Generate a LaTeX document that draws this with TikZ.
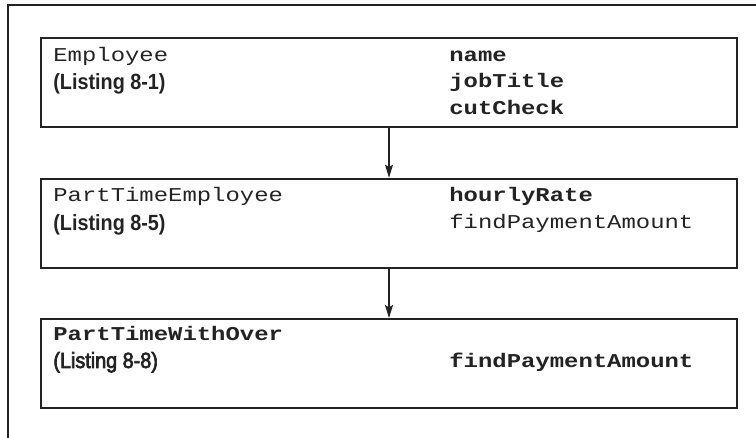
\documentclass[tikz,border=0pt]{standalone}
\usepackage{fontspec}
\setmainfont{Liberation Sans}
\newfontfamily\codefont[FakeStretch=1.22]{Liberation Mono}
\newfontfamily\tagfont[FakeStretch=0.9]{Liberation Sans}
\newfontfamily\tagmedium[FakeStretch=0.9,FakeBold=3]{Liberation Sans}
\usetikzlibrary{arrows.meta,positioning}
\definecolor{ink}{RGB}{35,35,35}
\tikzset{
  >={Stealth[length=6.5pt,width=4pt,inset=1.2pt]},
  frame/.style={draw=ink,line width=1pt},
  classbox/.style={draw=ink,line width=1pt,anchor=north west,inner sep=0pt,
    minimum width=348pt,minimum height=44.5pt},
  inherit/.style={->,draw=ink,line width=0.65pt},
  codetext/.style={font=\codefont\fontsize{9.8}{11}\selectfont,text=ink,
    anchor=base west,inner sep=0pt},
  codebold/.style={codetext,font=\codefont\fontsize{9.8}{11}\selectfont\bfseries},
  listtag/.style={font=\tagfont\fontsize{11}{13}\selectfont\bfseries,text=ink,
    anchor=base west,inner sep=0pt},
}
\begin{document}
\begin{tikzpicture}[x=0.5pt,y=-0.5pt]
  \useasboundingbox (0,0) rectangle (756,438);
  % open frame
  \draw[frame] (756,5) -- (7.5,5) -- (7.5,438);
  % class boxes
  \node[classbox] (emp) at (40,37.5) {};
  \node[classbox] (pte) at (40,177.7) {};
  \node[classbox] (ptwo) at (40,318) {};
  % inheritance arrows
  \draw[inherit] (emp) -- (pte);
  \draw[inherit] (pte) -- (ptwo);
  % Employee
  \node[codetext] (empname) at (53,61.5) {Employee};
  \node[listtag] (emptag) at (53,90) {(Listing 8-1)};
  \foreach \f/\y [count=\i] in {name/61.5,jobTitle/88,cutCheck/114.5}
    \node[codebold] (empf\i) at (449,\y) {\f};
  % PartTimeEmployee
  \node[codetext] (ptename) at (53,201.7) {PartTimeEmployee};
  \node[listtag] (ptetag) at (53,230.2) {(Listing 8-5)};
  \node[codebold] (ptef1) at (449,201.7) {hourlyRate};
  \node[codetext] (ptef2) at (449,228.2) {findPaymentAmount};
  % PartTimeWithOver
  \node[codebold] (ptwoname) at (53,341) {PartTimeWithOver};
  \node[listtag,font=\tagmedium\fontsize{11}{13}\selectfont] (ptwotag) at (53,368) {(Listing 8-8)};
  \node[codebold] (ptwof1) at (449,368) {findPaymentAmount};
\end{tikzpicture}
\end{document}
